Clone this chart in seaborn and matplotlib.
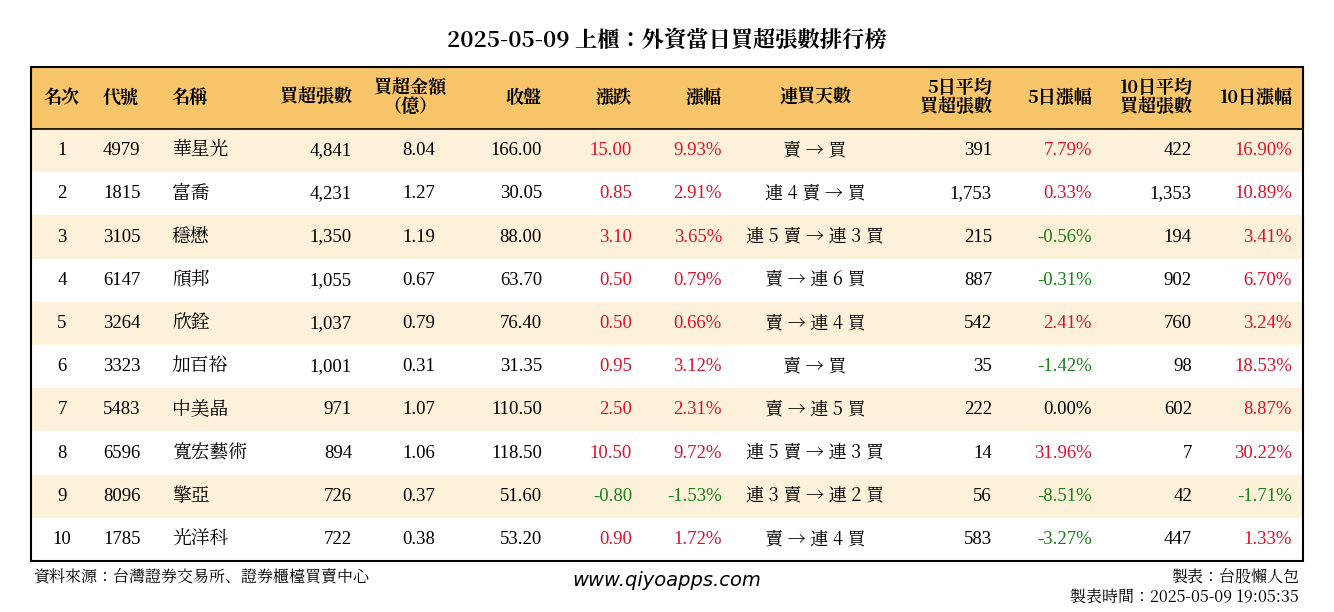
import matplotlib
matplotlib.use("Agg")
import matplotlib.pyplot as plt
import seaborn as sns
from matplotlib.patches import Rectangle
from matplotlib import font_manager as fm

sns.set_style("white")
plt.rcParams["text.color"] = "black"

rank = [1,2,3,4,5,6,7,8,9,10]
codes = ["4979","1815","3105","6147","3264","3323","5483","6596","8096","1785"]
names = ["華星光","富喬","穩懋","頎邦","欣銓","加百裕","中美晶","寬宏藝術","擎亞","光洋科"]
buy_lots = ["4,841","4,231","1,350","1,055","1,037","1,001","971","894","726","722"]
amount = ["8.04","1.27","1.19","0.67","0.79","0.31","1.07","1.06","0.37","0.38"]
close = ["166.00","30.05","88.00","63.70","76.40","31.35","110.50","118.50","51.60","53.20"]
change = [15.00,0.85,3.10,0.50,0.50,0.95,2.50,10.50,-0.80,0.90]
pct = [9.93,2.91,3.65,0.79,0.66,3.12,2.31,9.72,-1.53,1.72]
streak = ["賣 → 買","連 4 賣 → 買","連 5 賣 → 連 3 買","賣 → 連 6 買","賣 → 連 4 買",
          "賣 → 買","賣 → 連 5 買","連 5 賣 → 連 3 買","連 3 賣 → 連 2 買","賣 → 連 4 買"]
avg5 = ["391","1,753","215","887","542","35","222","14","56","583"]
pct5 = [7.79,0.33,-0.56,-0.31,2.41,-1.42,0.00,31.96,-8.51,-3.27]
avg10 = ["422","1,353","194","902","760","98","602","7","42","447"]
pct10 = [16.90,10.89,3.41,6.70,3.24,18.53,8.87,30.22,-1.71,1.33]

cjk_path = None
for f in fm.findSystemFonts():
    n = f.lower()
    if "cjk" in n:
        if cjk_path is None or ("regular" in n and "regular" not in cjk_path.lower()):
            cjk_path = f
CJK = fm.FontProperties(fname=cjk_path) if cjk_path else fm.FontProperties(family="Noto Sans CJK TC")
CJKB = CJK
for f in fm.findSystemFonts():
    n = f.lower()
    if "cjk" in n and "bold" in n:
        CJKB = fm.FontProperties(fname=f); break

SERIF = "Liberation Serif"
RED, GREEN = "#E0102A", "#1B7F1B"

def col(v):
    return RED if v > 0 else (GREEN if v < 0 else "black")

fig = plt.figure(figsize=(13.34, 6.12), dpi=100)
ax = fig.add_axes([0, 0, 1, 1])
ax.set_xlim(0, 1334); ax.set_ylim(612, 0); ax.axis("off")

L, R, T, B = 31, 1303, 67, 561
hdr_b = 129
rh = (B - hdr_b) / 10
ax.add_patch(Rectangle((L, T), R-L, hdr_b-T, color="#F8C56B", zorder=0))
for i in range(10):
    c = "#FDF2D9" if i % 2 == 0 else "white"
    ax.add_patch(Rectangle((L, hdr_b + i*rh), R-L, rh, color=c, zorder=0))
ax.add_patch(Rectangle((L, T), R-L, B-T, fill=False, ec="black", lw=1.5, zorder=3))
ax.plot([L, R], [hdr_b, hdr_b], color="black", lw=1.2)

def ct(x, y, s, size, ha, bold=False, **kw):
    fp = (CJKB if bold else CJK).copy(); fp.set_size(size)
    ax.text(x, y, s, ha=ha, va="center", fontproperties=fp, **kw)

ct(667, 42, "2025-05-09 上櫃：外資當日買超張數排行榜", 16, "center", bold=True)

hy = 98
hdrs = [(62,"名次","center"),(103,"代號","left"),(172,"名稱","left"),(352,"買超張數","right"),
        (410,"買超金額\n（億）","center"),(542,"收盤","right"),(632,"漲跌","right"),
        (722,"漲幅","right"),(815,"連買天數","center"),(992,"5日平均\n買超張數","right"),
        (1092,"5日漲幅","right"),(1192,"10日平均\n買超張數","right"),(1292,"10日漲幅","right")]
for x, s, ha in hdrs:
    ct(x, hy, s, 13, ha, bold=True, linespacing=0.95)

ns = dict(fontsize=13.5, fontfamily=SERIF, va="center")
for i in range(10):
    y = hdr_b + (i + 0.5) * rh
    ax.text(62, y, str(rank[i]), ha="center", **ns)
    ax.text(103, y, codes[i], ha="left", **ns)
    ct(172, y, names[i], 13.5, "left")
    ax.text(352, y, buy_lots[i], ha="right", **ns)
    ax.text(435, y, amount[i], ha="right", **ns)
    ax.text(542, y, close[i], ha="right", **ns)
    ax.text(632, y, f"{change[i]:.2f}", ha="right", color=col(change[i]), **ns)
    ax.text(722, y, f"{pct[i]:.2f}%", ha="right", color=col(pct[i]), **ns)
    ct(815, y, streak[i], 13, "center")
    ax.text(992, y, avg5[i], ha="right", **ns)
    ax.text(1092, y, f"{pct5[i]:.2f}%", ha="right", color=col(pct5[i]), **ns)
    ax.text(1192, y, avg10[i], ha="right", **ns)
    ax.text(1292, y, f"{pct10[i]:.2f}%", ha="right", color=col(pct10[i]), **ns)

ct(33, 577, "資料來源：台灣證券交易所、證券櫃檯買賣中心", 11.5, "left")
ax.text(667, 580, "www.qiyoapps.com", ha="center", va="center", fontsize=14,
        fontfamily="DejaVu Sans", style="italic")
ct(1299, 577, "製表：台股懶人包", 11.5, "right")
ct(1299, 598, "製表時間：2025-05-09 19:05:35", 11.5, "right")

fig.savefig("out.png", dpi=100, facecolor="white")
